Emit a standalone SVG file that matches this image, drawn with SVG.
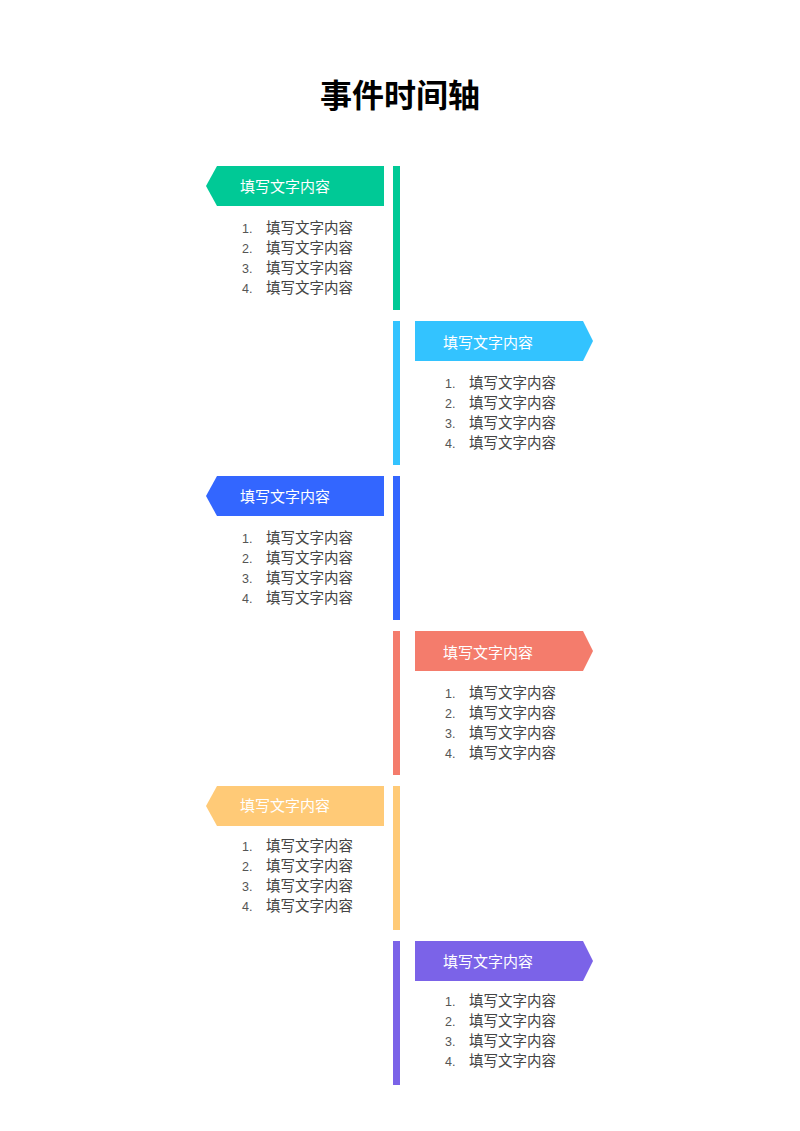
<svg xmlns="http://www.w3.org/2000/svg" width="800" height="1131" viewBox="0 0 800 1131">
<style>
.t{font-family:"Liberation Sans","Noto Sans CJK SC",sans-serif}
.title{font-size:32px;font-weight:bold;fill:#000;text-anchor:middle}
.tag{font-size:15px;fill:#fff}
.li{font-size:14.5px;fill:#444}
.num{font-size:12.5px;fill:#555}
</style>
<rect width="800" height="1131" fill="#fff"/>
<text class="t title" x="400" y="107">事件时间轴</text>
<g id="connectors">
<rect x="393" y="166" width="7" height="144" fill="#00C996"/>
<rect x="393" y="321" width="7" height="144" fill="#33C3FF"/>
<rect x="393" y="476" width="7" height="144" fill="#3366FF"/>
<rect x="393" y="631" width="7" height="144" fill="#F47C6C"/>
<rect x="393" y="786" width="7" height="144" fill="#FFCA77"/>
<rect x="393" y="941" width="7" height="144" fill="#7B63E8"/>
</g>
<defs>
<g id="listL" class="t">
<text class="num" x="242" y="0">1.</text><text class="li" x="266" y="0">填写文字内容</text>
<text class="num" x="242" y="20">2.</text><text class="li" x="266" y="20">填写文字内容</text>
<text class="num" x="242" y="40">3.</text><text class="li" x="266" y="40">填写文字内容</text>
<text class="num" x="242" y="60">4.</text><text class="li" x="266" y="60">填写文字内容</text>
</g>
<g id="listR" class="t">
<text class="num" x="445" y="0">1.</text><text class="li" x="469" y="0">填写文字内容</text>
<text class="num" x="445" y="20">2.</text><text class="li" x="469" y="20">填写文字内容</text>
<text class="num" x="445" y="40">3.</text><text class="li" x="469" y="40">填写文字内容</text>
<text class="num" x="445" y="60">4.</text><text class="li" x="469" y="60">填写文字内容</text>
</g>
</defs>
<g id="n1"><polygon points="217,166 384,166 384,206 217,206 206,186" fill="#00C996"/><text class="t tag" x="240" y="192">填写文字内容</text><use href="#listL" y="233"/></g>
<g id="n2"><polygon points="415,321 583,321 593,341 583,361 415,361" fill="#33C3FF"/><text class="t tag" x="443" y="348">填写文字内容</text><use href="#listR" y="388"/></g>
<g id="n3"><polygon points="217,476 384,476 384,516 217,516 206,496" fill="#3366FF"/><text class="t tag" x="240" y="502">填写文字内容</text><use href="#listL" y="543"/></g>
<g id="n4"><polygon points="415,631 583,631 593,651 583,671 415,671" fill="#F47C6C"/><text class="t tag" x="443" y="658">填写文字内容</text><use href="#listR" y="698"/></g>
<g id="n5"><polygon points="217,786 384,786 384,826 217,826 206,806" fill="#FFCA77"/><text class="t tag" x="240" y="811">填写文字内容</text><use href="#listL" y="851"/></g>
<g id="n6"><polygon points="415,941 583,941 593,961 583,981 415,981" fill="#7B63E8"/><text class="t tag" x="443" y="967">填写文字内容</text><use href="#listR" y="1006"/></g>
</svg>
